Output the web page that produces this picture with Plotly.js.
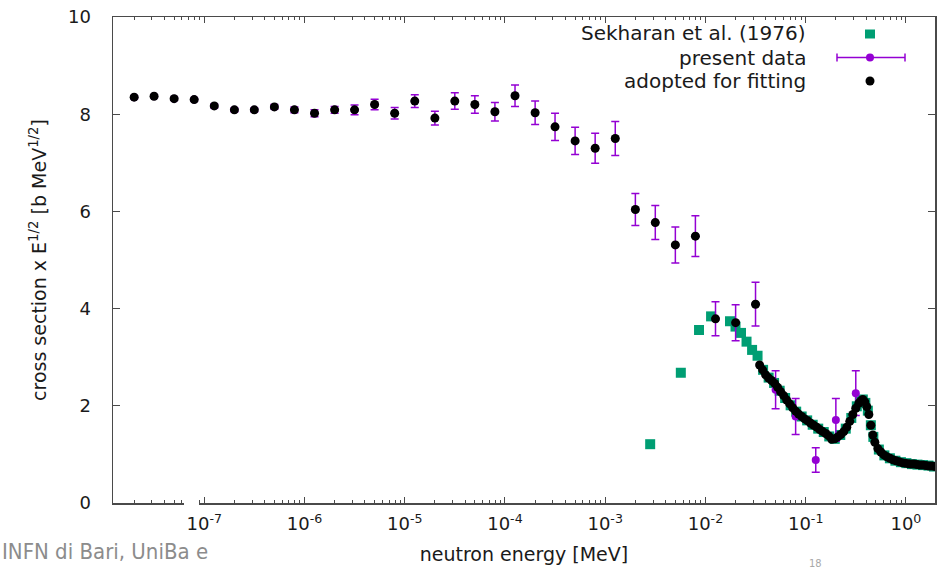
<!DOCTYPE html>
<html><head><meta charset="utf-8">
<script src="https://cdn.plot.ly/plotly-3.0.1.min.js"></script>
<style>html,body{margin:0;padding:0;background:#fff;overflow:hidden}#chart{width:941px;height:570px}</style>
</head><body><div id="chart"></div>
<script>
// ---- data (energies in MeV, y = cross section x E^1/2 in b MeV^1/2) ----
const presentE = [2.00e-8,3.16e-8,5.01e-8,7.94e-8,1.26e-7,2.00e-7,3.16e-7,5.01e-7,7.94e-7,1.26e-6,2.00e-6,3.16e-6,5.01e-6,7.94e-6,1.26e-5,2.00e-5,3.16e-5,5.01e-5,7.94e-5,1.26e-4,2.00e-4,3.16e-4,5.01e-4,7.94e-4,1.26e-3,2.00e-3,3.16e-3,5.01e-3,7.94e-3,1.26e-2,2.00e-2,3.16e-2,5.01e-2,7.94e-2,0.126,0.200,0.316];
const presentY = [8.35,8.37,8.32,8.30,8.17,8.09,8.09,8.15,8.09,8.02,8.09,8.09,8.20,8.02,8.27,7.92,8.27,8.20,8.05,8.38,8.03,7.74,7.45,7.30,7.50,6.04,5.77,5.31,5.49,3.79,3.71,4.09,2.33,1.78,0.885,1.71,2.26];
const presentErr = [0.03,0.03,0.03,0.03,0.04,0.04,0.04,0.05,0.06,0.07,0.07,0.10,0.11,0.12,0.13,0.14,0.17,0.18,0.19,0.22,0.24,0.28,0.28,0.31,0.35,0.33,0.35,0.37,0.42,0.35,0.37,0.45,0.39,0.37,0.25,0.44,0.46];

const adoptedE = [2.00e-8,3.16e-8,5.01e-8,7.94e-8,1.26e-7,2.00e-7,3.16e-7,5.01e-7,7.94e-7,1.26e-6,2.00e-6,3.16e-6,5.01e-6,7.94e-6,1.26e-5,2.00e-5,3.16e-5,5.01e-5,7.94e-5,1.26e-4,2.00e-4,3.16e-4,5.01e-4,7.94e-4,1.26e-3,2.00e-3,3.16e-3,5.01e-3,7.94e-3,1.26e-2,2.00e-2,3.16e-2,
  0.0347,0.0372,0.0398,0.0427,0.0457,0.0490,0.0525,0.0562,0.0603,0.0646,0.0692,0.0741,0.0794,0.0851,0.0912,0.0977,0.1047,0.1122,0.1202,0.1288,0.1380,0.1479,0.1585,0.1698,0.1820,0.1950,0.2089,0.2239,0.2399,0.2570,0.2754,0.2951,0.3162,0.3388,0.3548,0.3715,0.3890,0.4074,0.4266,0.4467,0.4677,0.4898,0.5248,0.5623,0.6026,0.6457,0.6918,0.7413,0.7943,0.8511,0.9120,0.9772,1.0471,1.1220,1.2023,1.2882,1.3804,1.4791,1.5849,1.6982,1.8197,1.9498];
const adoptedY = [8.35,8.37,8.32,8.30,8.17,8.09,8.09,8.15,8.09,8.02,8.09,8.09,8.20,8.02,8.27,7.92,8.27,8.20,8.05,8.38,8.03,7.74,7.45,7.30,7.50,6.04,5.77,5.31,5.49,3.79,3.71,4.09,
  2.84,2.74,2.64,2.57,2.52,2.46,2.38,2.29,2.21,2.12,2.04,1.96,1.89,1.83,1.78,1.73,1.69,1.64,1.60,1.56,1.51,1.47,1.43,1.38,1.31,1.32,1.36,1.41,1.47,1.56,1.68,1.82,1.95,2.05,2.10,2.13,2.08,1.98,1.82,1.60,1.40,1.25,1.12,1.05,0.99,0.95,0.92,0.89,0.87,0.85,0.83,0.82,0.81,0.80,0.80,0.79,0.78,0.78,0.77,0.76,0.76,0.75];

const sekharanE = [0.00281,0.00568,0.00863,0.01138,0.01758,0.01995,0.02265,0.0257,0.0292,0.0331,0.0376,0.0427,0.0484,0.0550,0.0624,0.0708,0.0804,0.0912,0.1035,0.1175,0.1334,0.1514,0.1718,0.195,0.2213,0.2512,0.2851,0.3236,0.3467,0.3715,0.3936,0.4169,0.4467,0.4732,0.537,0.6095,0.6918,0.7852,0.8913,1.0116,1.148,1.303,1.479,1.679,1.905];
const sekharanY = [1.21,2.68,3.56,3.84,3.74,3.63,3.50,3.32,3.15,3.03,2.74,2.58,2.47,2.31,2.16,2.01,1.88,1.78,1.70,1.61,1.53,1.46,1.37,1.32,1.40,1.53,1.75,1.99,2.08,2.13,2.06,1.90,1.60,1.36,1.10,0.98,0.92,0.87,0.84,0.82,0.80,0.79,0.78,0.77,0.75];

const xTickVals = [1e-7,1e-6,1e-5,1e-4,1e-3,1e-2,1e-1,1];
const xTickText = ['10<sup>-7</sup>','10<sup>-6</sup>','10<sup>-5</sup>','10<sup>-4</sup>','10<sup>-3</sup>','10<sup>-2</sup>','10<sup>-1</sup>','10<sup>0</sup>'];
const yTickVals = [0,2,4,6,8,10];
const legendLabels = ['Sekharan et al. (1976)','present data','adopted for fitting'];
const seriesColors = ['#009e73','#9400d3','#000000'];

// minor ticks 2..9 of each decade
const minorVals = [];
for (let e = -8; e <= 0; e++) for (let d = 2; d <= 9; d++) minorVals.push(d * Math.pow(10, e));

const FONT = '"DejaVu Sans", "Liberation Sans", Arial, sans-serif';
const SLIDE_FONT = '"Liberation Sans Narrow", "DejaVu Sans Condensed", "Open Sans", sans-serif';
const AX = '#4a4a4a';

const traces = [
  {x: sekharanE, y: sekharanY, type:'scatter', mode:'markers', name: legendLabels[0],
   marker:{symbol:'square', size:10, color:seriesColors[0]}},
  {x: presentE, y: presentY, type:'scatter', mode:'markers', name: legendLabels[1],
   marker:{symbol:'circle', size:8, color:seriesColors[1]},
   error_y:{type:'data', array:presentErr, visible:true, color:seriesColors[1], thickness:1.5, width:4}},
  {x: adoptedE, y: adoptedY, type:'scatter', mode:'markers', name: legendLabels[2],
   marker:{symbol:'circle', size:9, color:seriesColors[2]}}
];

// plot area in px: x 113..935, y 17..503
const L = 113, R = 935, T = 17, B = 503;
const px = v => (v - L) / (R - L);
const py = v => (B - v) / (B - T);

const shapes = [
  // gap in the bottom axis line near 10^-7
  {type:'rect', xref:'paper', yref:'paper', x0:px(184), x1:px(199), y0:py(506), y1:py(498), fillcolor:'#fff', line:{width:0}, layer:'above'},
  // legend symbols
  {type:'rect', xref:'paper', yref:'paper', x0:px(865), x1:px(875), y0:py(38.5), y1:py(29.5), fillcolor:seriesColors[0], line:{width:0}},
  {type:'line', xref:'paper', yref:'paper', x0:px(837), x1:px(905), y0:py(57.5), y1:py(57.5), line:{color:seriesColors[1], width:1.5}},
  {type:'line', xref:'paper', yref:'paper', x0:px(837), x1:px(837), y0:py(53.5), y1:py(61.5), line:{color:seriesColors[1], width:1.5}},
  {type:'line', xref:'paper', yref:'paper', x0:px(905), x1:px(905), y0:py(53.5), y1:py(61.5), line:{color:seriesColors[1], width:1.5}},
  {type:'circle', xref:'paper', yref:'paper', x0:px(866), x1:px(874), y0:py(61.5), y1:py(53.5), fillcolor:seriesColors[1], line:{width:0}},
  {type:'circle', xref:'paper', yref:'paper', x0:px(865.5), x1:px(874.5), y0:py(85.5), y1:py(76.5), fillcolor:seriesColors[2], line:{width:0}}
];

const legendY = [33, 57.5, 81];
const annotations = legendLabels.map((t, i) => ({
  text: t, xref:'paper', yref:'paper', x:px(808), y:py(legendY[i]), xanchor:'right', yanchor:'middle',
  showarrow:false, font:{family:FONT, size:20, color:'#1a1a1a'}
}));
annotations.push({text:'INFN di Bari, UniBa e', xref:'paper', yref:'paper', x:px(0), y:py(551), xanchor:'left', yanchor:'middle',
  showarrow:false, font:{family:SLIDE_FONT, size:22, color:'#8c8c8c'}});
annotations.push({text:'18', xref:'paper', yref:'paper', x:px(815), y:py(563), xanchor:'center', yanchor:'middle',
  showarrow:false, font:{family:SLIDE_FONT, size:11, color:'#a8a8a8'}});

const layout = {
  width:941, height:570,
  margin:{l:L, r:941-R, t:T, b:570-B, pad:0},
  paper_bgcolor:'#fff', plot_bgcolor:'#fff',
  showlegend:false,
  font:{family:FONT, size:18, color:'#1a1a1a'},
  xaxis:{type:'log', range:[-7.91, 0.29], tickmode:'array', tickvals:xTickVals, ticktext:xTickText,
    ticks:'inside', ticklen:6, tickwidth:1, tickcolor:AX,
    showline:true, linecolor:AX, linewidth:1.5, mirror:'allticks',
    showgrid:false, zeroline:false, ticklabelstandoff:4,
    minor:{tickmode:'array', tickvals:minorVals, ticks:'inside', ticklen:3, tickwidth:1, tickcolor:AX, showgrid:false},
    title:{text:'neutron energy [MeV]', font:{size:19}, standoff:14}},
  yaxis:{range:[0,10], tickmode:'array', tickvals:yTickVals,
    ticks:'inside', ticklen:7, tickwidth:1, tickcolor:AX,
    showline:true, linecolor:AX, linewidth:1.5, mirror:'allticks',
    showgrid:false, zeroline:false, ticklabelstandoff:17,
    title:{text:'cross section x E<sup>1/2</sup> [b MeV<sup>1/2</sup>]', font:{size:19}, standoff:16}},
  shapes: shapes,
  annotations: annotations
};

Plotly.newPlot('chart', traces, layout, {staticPlot:true, displayModeBar:false});
</script>
</body></html>
